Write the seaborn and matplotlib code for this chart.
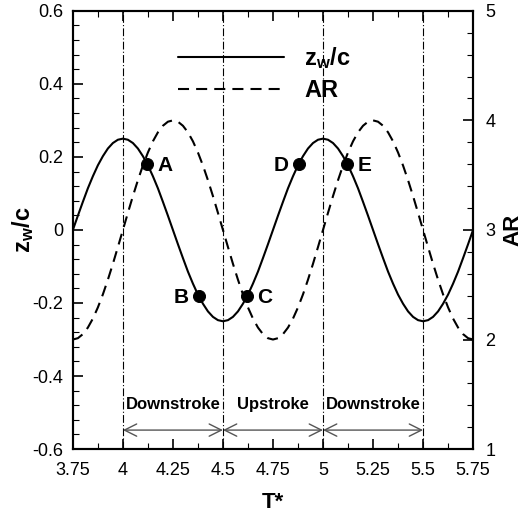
import numpy as np
import pandas as pd
import matplotlib
matplotlib.use("Agg")
import matplotlib.pyplot as plt
from matplotlib.font_manager import FontProperties
from matplotlib.ticker import MultipleLocator
import seaborn as sns

# Non-dimensional time samples (one every 0.025 over two cycles)
t_star = np.linspace(3.75, 5.75, 81)

# Wing-tip heave z_w/c
z_wc = [
    0.000, 0.039, 0.077, 0.114, 0.147, 0.177, 0.202, 0.223, 0.238, 0.247,
    0.250, 0.247, 0.238, 0.223, 0.202, 0.177, 0.147, 0.114, 0.077, 0.039,
    0.000, -0.039, -0.077, -0.114, -0.147, -0.177, -0.202, -0.223, -0.238, -0.247,
    -0.250, -0.247, -0.238, -0.223, -0.202, -0.177, -0.147, -0.114, -0.077, -0.039,
    0.000, 0.039, 0.077, 0.114, 0.147, 0.177, 0.202, 0.223, 0.238, 0.247,
    0.250, 0.247, 0.238, 0.223, 0.202, 0.177, 0.147, 0.114, 0.077, 0.039,
    0.000, -0.039, -0.077, -0.114, -0.147, -0.177, -0.202, -0.223, -0.238, -0.247,
    -0.250, -0.247, -0.238, -0.223, -0.202, -0.177, -0.147, -0.114, -0.077, -0.039,
    0.000,
]

# Aspect ratio AR
ar = [
    2.000, 2.012, 2.049, 2.109, 2.191, 2.293, 2.412, 2.546, 2.691, 2.844,
    3.000, 3.156, 3.309, 3.454, 3.588, 3.707, 3.809, 3.891, 3.951, 3.988,
    4.000, 3.988, 3.951, 3.891, 3.809, 3.707, 3.588, 3.454, 3.309, 3.156,
    3.000, 2.844, 2.691, 2.546, 2.412, 2.293, 2.191, 2.109, 2.049, 2.012,
    2.000, 2.012, 2.049, 2.109, 2.191, 2.293, 2.412, 2.546, 2.691, 2.844,
    3.000, 3.156, 3.309, 3.454, 3.588, 3.707, 3.809, 3.891, 3.951, 3.988,
    4.000, 3.988, 3.951, 3.891, 3.809, 3.707, 3.588, 3.454, 3.309, 3.156,
    3.000, 2.844, 2.691, 2.546, 2.412, 2.293, 2.191, 2.109, 2.049, 2.012,
    2.000,
]

# Marked instants
point_names = ["A", "B", "C", "D", "E"]
point_t = [4.122, 4.378, 4.622, 4.878, 5.122]
point_z = [0.18, -0.18, -0.18, 0.18, 0.18]
point_side = ["right", "left", "right", "left", "right"]

# Stroke phases
phase_names = ["Downstroke", "Upstroke", "Downstroke"]
phase_start = [4.0, 4.5, 5.0]
phase_end = [4.5, 5.0, 5.5]
phase_marks = [4.0, 4.5, 5.0, 5.5]

x_ticks = [3.75, 4, 4.25, 4.5, 4.75, 5, 5.25, 5.5, 5.75]
x_tick_labels = ["3.75", "4", "4.25", "4.5", "4.75", "5", "5.25", "5.5", "5.75"]
y_ticks = [-0.6, -0.4, -0.2, 0, 0.2, 0.4, 0.6]
y_tick_labels = ["-0.6", "-0.4", "-0.2", "0", "0.2", "0.4", "0.6"]
ar_ticks = [1, 2, 3, 4, 5]

sns.set_theme(style="ticks")
plt.rcParams["font.family"] = ["Liberation Sans", "DejaVu Sans"]
plt.rcParams["text.color"] = "black"
plt.rcParams["axes.labelcolor"] = "black"
plt.rcParams["xtick.color"] = "black"
plt.rcParams["ytick.color"] = "black"
plt.rcParams["mathtext.fontset"] = "custom"
plt.rcParams["mathtext.bf"] = "Liberation Sans:bold"

df = pd.DataFrame({"T": t_star, "z": z_wc, "AR": ar})
pts = pd.DataFrame({"T": point_t, "z": point_z})

fig = plt.figure(figsize=(5.28, 5.15), dpi=100)
ax = fig.add_axes([0.138, 0.128, 0.758, 0.851])
ax2 = ax.twinx()

sns.lineplot(data=df, x="T", y="z", ax=ax, color="black", lw=1.5,
             label="z_w/c", legend=False)
sns.lineplot(data=df, x="T", y="AR", ax=ax2, color="black", lw=1.5,
             label="AR", legend=False)
ax2.lines[0].set_dashes([5.3, 3.4])

for xm in phase_marks:
    ax.axvline(xm, color="black", lw=0.8, ls=(0, (7, 2, 1, 2)))

sns.scatterplot(data=pts, x="T", y="z", ax=ax, color="black", s=75,
                edgecolor="black", zorder=5, legend=False)
for name, t, z, side in zip(point_names, point_t, point_z, point_side):
    dx = 7 if side == "right" else -7
    ax.annotate(name, (t, z), xytext=(dx, -1), textcoords="offset points",
                ha="left" if side == "right" else "right", va="center",
                fontsize=15, fontweight="bold", color="black")

for name, a, b in zip(phase_names, phase_start, phase_end):
    ax.annotate("", xy=(a, -0.548), xytext=(b, -0.548),
                arrowprops=dict(arrowstyle="<->", color="#555555", lw=1.0,
                                mutation_scale=22, shrinkA=0, shrinkB=0))
    ax.text((a + b) / 2, -0.478, name, ha="center", va="center",
            fontsize=12, fontweight="bold", color="black")

ax.set_xlim(3.75, 5.75)
ax.set_ylim(-0.6, 0.6)
ax2.set_ylim(1, 5)
ax.set_xticks(x_ticks, x_tick_labels)
ax.set_yticks(y_ticks, y_tick_labels)
ax2.set_yticks(ar_ticks, [str(v) for v in ar_ticks])
ax.xaxis.set_minor_locator(MultipleLocator(0.125))
ax.yaxis.set_minor_locator(MultipleLocator(0.04))
ax2.yaxis.set_minor_locator(MultipleLocator(0.2))

ax.tick_params(which="both", direction="in", top=True, right=False,
               labelsize=13, colors="black", width=1.2)
ax.tick_params(axis="x", which="both", pad=9.5)
ax.tick_params(axis="y", which="both", pad=7)
ax.tick_params(which="major", length=7)
ax.tick_params(which="minor", length=4, width=0.8)
ax2.tick_params(which="both", direction="in", labelsize=13, colors="black",
                width=1.2, pad=9)
ax2.tick_params(which="major", length=7)
ax2.tick_params(which="minor", length=4, width=0.8)

for a in (ax, ax2):
    for sp in a.spines.values():
        sp.set_linewidth(1.5)
        sp.set_color("black")

ax.set_xlabel("T*", fontsize=16, fontweight="bold", labelpad=9)
ax.set_ylabel(r"$\mathbf{z_w/c}$", fontsize=17, labelpad=-3)
ax2.set_ylabel("AR", fontsize=16, fontweight="bold", labelpad=5)

legend_font = FontProperties(family="Liberation Sans", weight="bold", size=17)
handles = ax.lines[:1] + ax2.lines[:1]
leg = ax2.legend(handles, [r"$\mathbf{z_w/c}$", "AR"], loc="upper left",
                 bbox_to_anchor=(0.2625, 0.922), frameon=False,
                 borderaxespad=0, borderpad=0, handlelength=4.5,
                 handletextpad=0.85, labelspacing=0.35, prop=legend_font)
for txt in leg.get_texts():
    txt.set_fontproperties(legend_font.copy())
    txt.set_color("black")

fig.savefig("out.png", dpi=100)
